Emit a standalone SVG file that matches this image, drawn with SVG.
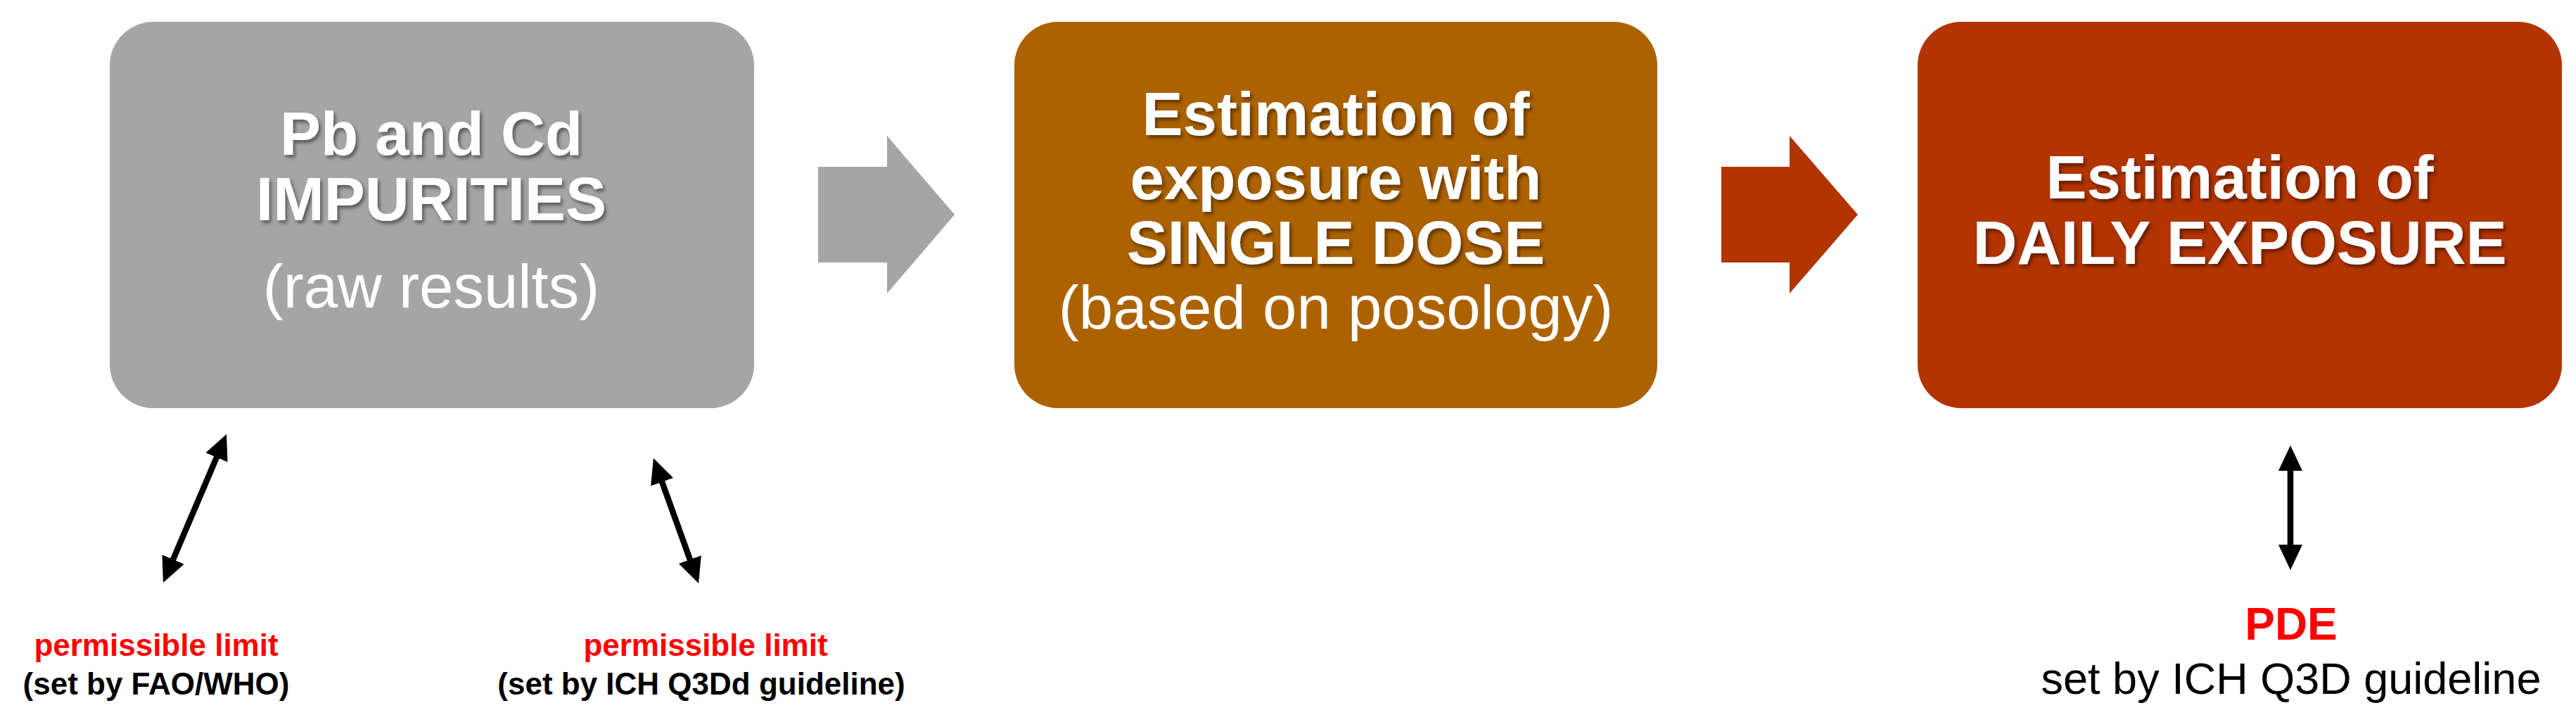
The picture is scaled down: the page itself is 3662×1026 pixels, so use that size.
<svg xmlns="http://www.w3.org/2000/svg" width="3662" height="1026" viewBox="0 0 3662 1026">
<style>
.t{font-family:"Liberation Sans",Arial,sans-serif;text-anchor:middle}
.bw{font-weight:bold;fill:#fff;font-size:87px;filter:url(#sh)}
.rw{fill:#fff;font-size:87px}
.red{fill:#ff0000;font-weight:bold}
.blk{fill:#000}
.dbl{stroke:#000;stroke-width:8.5;fill:none;marker-start:url(#ah);marker-end:url(#ah)}
</style>
<defs>
<filter id="sh" x="-10%" y="-20%" width="120%" height="150%">
<feDropShadow dx="3" dy="4" stdDeviation="2.5" flood-color="#000" flood-opacity="0.45"/>
</filter>
<marker id="ah" viewBox="0 0 36 34" refX="14" refY="17" markerWidth="36" markerHeight="34" orient="auto-start-reverse" markerUnits="userSpaceOnUse">
<path d="M0,0 L36,17 L0,34 z" fill="#000"/>
</marker>
</defs>
<rect width="3662" height="1026" fill="#fff"/>

<g id="connectors">
<polygon id="arrow1" points="1163,237 1261,237 1261,193 1357,305 1261,417 1261,373 1163,373" fill="#a5a5a5"/>
<polygon id="arrow2" points="2447,237 2544,237 2544,193 2641,305 2544,417 2544,373 2447,373" fill="#b23400"/>
<line class="dbl" x1="313.4" y1="637.2" x2="240.6" y2="807.8"/>
<line class="dbl" x1="936.4" y1="671.7" x2="985.6" y2="808.3"/>
<line class="dbl" x1="3256" y1="655" x2="3256" y2="788"/>
</g>

<g id="node-impurities">
<rect x="156" y="31" width="916" height="549" rx="62" fill="#a5a5a5"/>
<text class="t bw" x="613" y="220">Pb and Cd</text>
<text class="t bw" x="613" y="313">IMPURITIES</text>
<text class="t rw" x="613" y="437">(raw results)</text>
</g>

<g id="node-single-dose">
<rect x="1442" y="31" width="914" height="549" rx="62" fill="#ad6200"/>
<text class="t bw" x="1899" y="192">Estimation of</text>
<text class="t bw" x="1899" y="283">exposure with</text>
<text class="t bw" x="1899" y="375">SINGLE DOSE</text>
<text class="t rw" x="1899" y="467">(based on posology)</text>
</g>

<g id="node-daily">
<rect x="2726" y="31" width="916" height="549" rx="62" fill="#b23400"/>
<text class="t bw" x="3184" y="282">Estimation of</text>
<text class="t bw" x="3184" y="375">DAILY EXPOSURE</text>
</g>

<g id="label-fao">
<text class="t red" x="222" y="932" font-size="44">permissible limit</text>
<text class="t blk" x="222" y="987" font-size="44" font-weight="bold">(set by FAO/WHO)</text>
</g>

<g id="label-ich">
<text class="t red" x="1003" y="932" font-size="44">permissible limit</text>
<text class="t blk" x="997" y="987" font-size="44" font-weight="bold">(set by ICH Q3Dd guideline)</text>
</g>

<g id="label-pde">
<text class="t red" x="3257" y="909" font-size="64">PDE</text>
<text class="t blk" x="3257" y="986" font-size="63">set by ICH Q3D guideline</text>
</g>
</svg>
